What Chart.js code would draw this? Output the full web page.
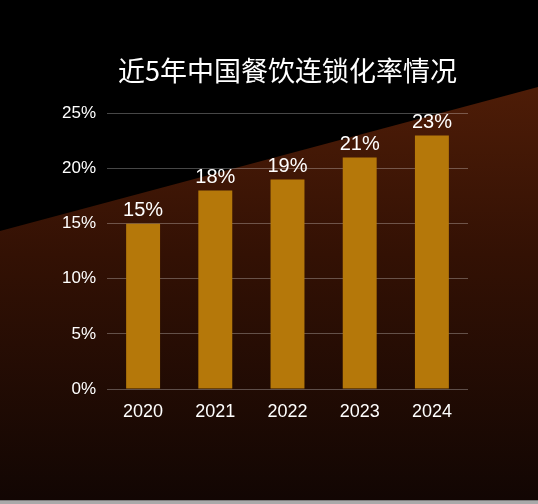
<!DOCTYPE html>
<html>
<head>
<meta charset="utf-8">
<script src="https://cdn.jsdelivr.net/npm/chart.js@4"></script>
<style>
  html, body { margin: 0; padding: 0; background: #000; }
  #wrap { width: 538px; height: 504px; position: relative; }
</style>
</head>
<body>
<div id="wrap"><canvas id="myChart"></canvas></div>
<script>
const titulo = '近5年中国餐饮连锁化率情况';
const anios = ['2020', '2021', '2022', '2023', '2024'];
const tasas = [15, 18, 19, 21, 23];
const ticksY = [0, 5, 10, 15, 20, 25];

const chart = document.getElementById('myChart');

// fondo: triangulo negro arriba y degradado marron abajo
const fondo = {
    id: 'fondo',
    beforeDraw: (c) => {
        const ctx = c.ctx;
        const w = c.width / (c.currentDevicePixelRatio || 1);
        const h = c.height / (c.currentDevicePixelRatio || 1);
        ctx.save();
        const grad = ctx.createLinearGradient(0, 90, 0, 500);
        grad.addColorStop(0, '#4d1c07');
        grad.addColorStop(0.4, '#331104');
        grad.addColorStop(1, '#120603');
        ctx.fillStyle = grad;
        ctx.fillRect(0, 0, w, h);
        ctx.fillStyle = '#000';
        ctx.beginPath();
        ctx.moveTo(0, 0);
        ctx.lineTo(w, 0);
        ctx.lineTo(w, 87);
        ctx.lineTo(0, 231);
        ctx.closePath();
        ctx.fill();
        ctx.fillStyle = '#a9a9a9';
        ctx.fillRect(0, 500, w, h - 500);
        ctx.fillStyle = '#7d7d7d';
        ctx.fillRect(0, 500, w, 1);
        ctx.restore();
    }
};

// etiquetas de valor encima de cada barra
const etiquetas = {
    id: 'etiquetas',
    afterDatasetsDraw: (c) => {
        const ctx = c.ctx;
        const meta = c.getDatasetMeta(0);
        ctx.save();
        ctx.fillStyle = '#fff';
        ctx.font = '20px "Liberation Sans", Arial, sans-serif';
        ctx.textAlign = 'center';
        ctx.textBaseline = 'bottom';
        meta.data.forEach((bar, i) => {
            ctx.fillText(tasas[i] + '%', bar.x, bar.y - 3);
        });
        ctx.restore();
    }
};

const datasets = [
    {
        label: 'Tasa',
        data: tasas,
        backgroundColor: '#b5780a',
        borderWidth: 0,
        categoryPercentage: 1,
        barPercentage: 0.47
    }
];

const config = {
    type: 'bar',
    data: { labels: anios, datasets },
    options: {
        responsive: true,
        maintainAspectRatio: false,
        animation: false,
        layout: { padding: { left: 50, right: 70, top: 0, bottom: 85 } },
        plugins: {
            legend: { display: false },
            tooltip: { enabled: false },
            title: {
                display: true,
                text: titulo,
                color: '#fff',
                fullSize: false,
                font: { family: '"Noto Sans CJK SC", sans-serif', size: 27, weight: 'normal', lineHeight: 1.2 },
                padding: { top: 55, bottom: 26 }
            }
        },
        scales: {
            x: {
                grid: { display: false, drawTicks: false },
                border: { display: false },
                ticks: {
                    color: '#fff',
                    padding: 12,
                    font: { family: '"Liberation Sans", Arial, sans-serif', size: 18 }
                },
                afterFit: (s) => { s.height = 30; }
            },
            y: {
                min: 0,
                max: 25,
                afterBuildTicks: (s) => { s.ticks = ticksY.map((v) => ({ value: v })); },
                grid: { color: 'rgba(255,255,255,0.28)', lineWidth: 1, drawTicks: false },
                border: { display: false },
                ticks: {
                    color: '#fff',
                    padding: 11,
                    font: { family: '"Liberation Sans", Arial, sans-serif', size: 17 },
                    callback: (v) => v + '%'
                },
                afterFit: (s) => { s.width = 57; }
            }
        }
    },
    plugins: [fondo, etiquetas]
};

const myChart = new Chart(chart, config);
</script>
</body>
</html>
